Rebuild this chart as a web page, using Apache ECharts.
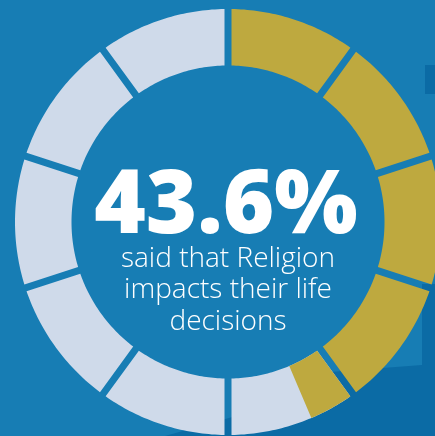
<!DOCTYPE html>
<html>
<head>
<meta charset="utf-8">
<script src="https://cdn.jsdelivr.net/npm/echarts@6/dist/echarts.min.js"></script>
<style>
html,body{margin:0;padding:0;background:#177db4;}
#chart{width:435px;height:436px;}
</style>
</head>
<body>
<div id="chart"></div>
<script>
// ---- data ----
const segmentCount = 10;            // ring is split into 10 equal blocks
const sharePercent = 43.6;          // share that said yes
const headline = sharePercent.toFixed(1) + '%';
const captionLines = ['said that Religion', 'impacts their life', 'decisions'];

// ---- style ----
const BG = '#177db4';
const DARK = '#0b6ba5';
const GOLD = '#bea93f';
const LIGHT = '#cfdaea';
const CX = 228, CY = 222, R_OUT = 213, R_IN = 156.5, HALF_GAP = 3.5;
const HEAD_SIZE = 88, CAP_SIZE = 28;
const HEAD_BASE = 233, CAP_BASES = [267, 298, 330];
const BASE_RATIO = 0.79; // baseline offset from top of box, in em

// build segments: [start, end, colorIndex(0 light,1 gold), gapStart, gapEnd]
const step = 100 / segmentCount;
const segments = [];
for (let i = 0; i < segmentCount; i++) {
  const s = i * step, e = (i + 1) * step;
  if (e <= sharePercent) segments.push([s, e, 1, 1, 1]);
  else if (s >= sharePercent) segments.push([s, e, 0, 1, 1]);
  else {
    segments.push([s, e, 0, 1, 1]);
    segments.push([s, sharePercent, 1, 1, 0]);
  }
}

function renderItem(params, api) {
  const s = api.value(0), e = api.value(1), c = api.value(2);
  const gs = api.value(3), ge = api.value(4);
  const delta = r => Math.asin(HALF_GAP / r) / (2 * Math.PI) * 100;
  const pts = [];
  const N = 40;
  const a0o = s + gs * delta(R_OUT), a1o = e - ge * delta(R_OUT);
  for (let k = 0; k <= N; k++) pts.push(api.coord([R_OUT, a0o + (a1o - a0o) * k / N]));
  const a0i = s + gs * delta(R_IN), a1i = e - ge * delta(R_IN);
  for (let k = N; k >= 0; k--) pts.push(api.coord([R_IN, a0i + (a1i - a0i) * k / N]));
  return {
    type: 'polygon',
    shape: { points: pts },
    style: { fill: c === 1 ? GOLD : LIGHT, stroke: null }
  };
}

const chart = echarts.init(document.getElementById('chart'), null, { renderer: 'canvas' });
chart.setOption({
  backgroundColor: BG,
  animation: false,
  polar: { center: [CX, CY], radius: R_OUT },
  angleAxis: { type: 'value', min: 0, max: 100, startAngle: 90, clockwise: true, show: false },
  radiusAxis: { type: 'value', min: 0, max: R_OUT, show: false },
  graphic: [
    { type: 'rect', z: -10, shape: { x: 425, y: 65, width: 10, height: 29 }, style: { fill: DARK } },
    { type: 'polygon', z: -10, shape: { points: [[422, 284], [435, 284], [435, 436], [165, 436], [300, 398], [330, 372], [422, 365]] }, style: { fill: DARK } },
    { type: 'text', z: 10, x: 226, y: HEAD_BASE - BASE_RATIO * HEAD_SIZE,
      style: { text: headline, fill: '#fff', fontFamily: 'Open Sans', fontWeight: 800, fontSize: HEAD_SIZE, align: 'center', verticalAlign: 'top' } }
  ].concat(captionLines.map((t, i) => ({
    type: 'text', z: 10, x: 228, y: CAP_BASES[i] - BASE_RATIO * CAP_SIZE,
    style: { text: t, fill: '#fff', fontFamily: 'Open Sans', fontWeight: 300, fontSize: CAP_SIZE, align: 'center', verticalAlign: 'top' }
  }))),
  series: [{
    type: 'custom',
    coordinateSystem: 'polar',
    renderItem: renderItem,
    data: segments,
    silent: true
  }]
});
</script>
</body>
</html>
